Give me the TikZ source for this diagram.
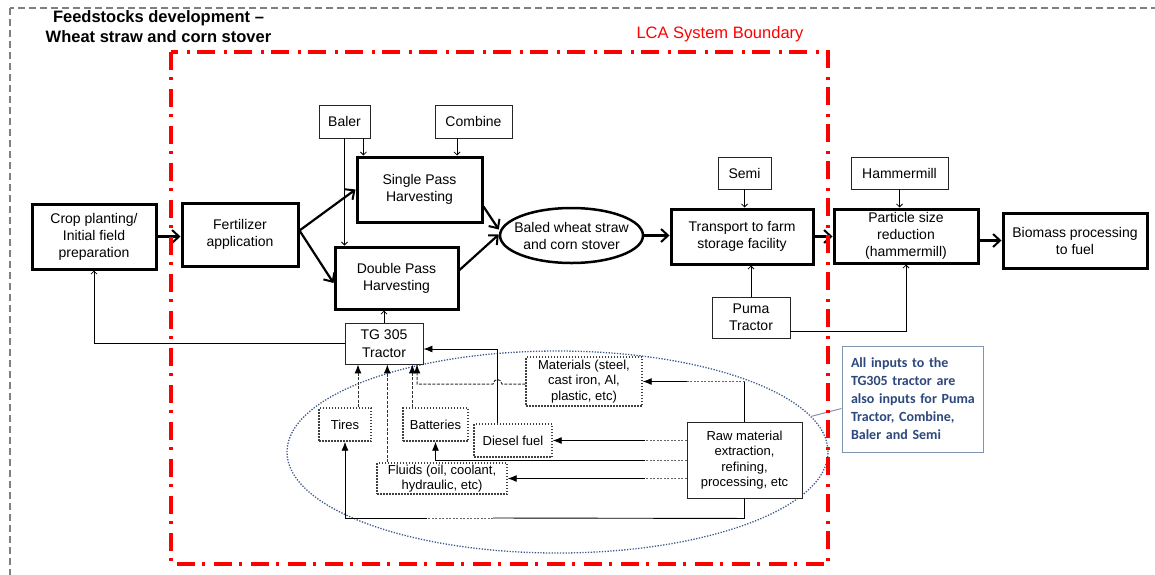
\documentclass[tikz,border=0pt]{standalone}
\usepackage{fontspec}
\setmainfont{Liberation Sans}
\newfontfamily\notefont{Carlito}
\usetikzlibrary{arrows.meta,shapes.geometric,calc}
\definecolor{lcared}{RGB}{255,0,0}
\definecolor{notetext}{RGB}{44,72,125}
\definecolor{noteborder}{RGB}{128,148,176}
\definecolor{ellblue}{RGB}{60,90,140}
\tikzset{
  mainbox/.style={draw, fill=white, line width=3pt, align=center, font=\fontsize{14}{17}\selectfont, inner sep=0pt},
  smallbox/.style={draw=black!85, fill=white, line width=0.9pt, align=center, font=\fontsize{14}{17}\selectfont, inner sep=0pt},
  dotbox/.style={draw=black!75, fill=white, line width=1.4pt, dash pattern=on 1.5pt off 1.5pt, align=center, font=\fontsize{13}{15.5}\selectfont, inner sep=0pt},
  bigarrow/.style={line width=2.2pt, -{Straight Barb[length=7pt,width=13pt,line width=2pt]}},
  thinarrow/.style={line width=0.8pt, -{Straight Barb[length=3pt,width=6pt,line width=0.8pt]}},
  fillarrow/.style={line width=0.9pt, -{Latex[length=9pt,width=7pt]}},
  dasharrow/.style={line width=1pt, draw=black!80, dash pattern=on 3pt off 1.5pt, -{Latex[length=9pt,width=7pt,color=black]}},
  dashseg/.style={line width=0.9pt, draw=black!60, dash pattern=on 2pt off 1.5pt},
  solidseg/.style={line width=0.9pt},
  outerdash/.style={draw=black!50, line width=1.3pt, dash pattern=on 7pt off 4pt},
  lcabound/.style={draw=lcared, line width=3.5pt, dash pattern=on 18pt off 7pt on 3pt off 9pt}
}
\begin{document}
\begin{tikzpicture}[x=1pt,y=-1pt]
\useasboundingbox (0,0) rectangle (1155,574);
\begin{scope}
  \clip (0,0) rectangle (1155,574);
  \draw[outerdash] (10,8) rectangle (1180,600);
\end{scope}

% title
\node[align=center, font=\bfseries\fontsize{16.5}{20}\selectfont] (title) at (158.5,27) {Feedstocks development --\\Wheat straw and corn stover};
\node[text=lcared, font=\fontsize{16.5}{20}\selectfont] (lcalabel) at (720,34) {LCA System Boundary};

% dotted ellipse
\node[ellipse, draw=ellblue, line width=1.3pt, dash pattern=on 1.3pt off 1.5pt, minimum width=541pt, minimum height=202pt, inner sep=0pt] (group) at (557.5,452) {};

% main nodes
\node[mainbox, minimum width=124pt, minimum height=65pt] (crop) at (94,236.5) {Crop planting/\\Initial field\\preparation};
\node[mainbox, minimum width=116pt, minimum height=63pt] (fert) at (240,234.5) {Fertilizer\\application};
\node[mainbox, minimum width=125pt, minimum height=65pt] (single) at (419.5,189.5) {Single Pass\\Harvesting};
\node[mainbox, minimum width=123pt, minimum height=62pt] (double) at (396.5,278) {Double Pass\\Harvesting};
\node[ellipse, draw, fill=white, line width=2.5pt, minimum width=143pt, minimum height=55pt, inner sep=0pt] (baled) at (571.5,235.5) {};
\node[align=center, font=\fontsize{14}{17}\selectfont, inner sep=0pt] (baledtext) at (baled.center) {Baled wheat straw\\and corn stover};
\node[mainbox, minimum width=142pt, minimum height=55pt] (transport) at (742,236.5) {Transport to farm\\storage facility};
\node[mainbox, minimum width=144pt, minimum height=54pt] (particle) at (906,236) {Particle size\\reduction\\(hammermill)};
\node[mainbox, minimum width=144pt, minimum height=55pt] (biomass) at (1075,240.5) {Biomass processing\\to fuel};

% small solid boxes
\node[smallbox, minimum width=51pt, minimum height=33pt] (baler) at (344.5,121.5) {Baler};
\node[smallbox, minimum width=77pt, minimum height=33pt] (combine) at (473.5,121.5) {Combine};
\node[smallbox, minimum width=53pt, minimum height=32pt] (semi) at (744.5,173) {Semi};
\node[smallbox, minimum width=97pt, minimum height=32pt] (hammer) at (899.5,173) {Hammermill};
\node[smallbox, minimum width=78pt, minimum height=41pt] (puma) at (751,317.5) {Puma\\Tractor};
\node[smallbox, minimum width=78pt, minimum height=41pt, font=\fontsize{14}{18}\selectfont] (tg) at (384,343.5) {TG 305\\Tractor};
\node[smallbox, minimum width=115pt, minimum height=76pt, font=\fontsize{13}{15.5}\selectfont] (raw) at (744.5,460) {Raw material\\extraction,\\refining,\\processing, etc};

% dotted boxes
\node[dotbox, minimum width=52pt, minimum height=33pt] (tires) at (345,424.5) {Tires};
\node[dotbox, minimum width=65pt, minimum height=33pt] (batt) at (435.5,424.5) {Batteries};
\node[dotbox, minimum width=78pt, minimum height=33pt] (diesel) at (513,440.5) {Diesel fuel};
\node[dotbox, minimum width=130pt, minimum height=31pt] (fluids) at (442,478.5) {Fluids (oil, coolant,\\hydraulic, etc)};
\node[dotbox, minimum width=116pt, minimum height=49pt] (materials) at (584,381.5) {Materials (steel,\\cast iron, Al,\\plastic, etc)};

% note
\node[draw=noteborder, line width=1pt, fill=white, text=notetext, align=left, text width=131pt, inner xsep=5pt, inner ysep=0pt, minimum height=106pt, font=\notefont\bfseries\fontsize{14}{18}\selectfont] (note) at (912.5,399) {\hspace*{4pt}All inputs to the\\\hspace*{4pt}TG305 tractor are\\\hspace*{4pt}also inputs for Puma\\\hspace*{4pt}Tractor, Combine,\\\hspace*{4pt}Baler and Semi};
\draw[noteborder, line width=1pt] ([yshift=-63pt]note.north west) -- (group.8);

% main flow
\draw[bigarrow, line width=3.5pt] (crop.east) -- (crop.east -| fert.west);
\draw[bigarrow] ([yshift=4pt]fert.east) -- (single.west);
\draw[bigarrow] ([yshift=4pt]fert.east) -- ([yshift=-5pt]double.west);
\draw[bigarrow] ([yshift=-17pt]single.east) -- ([yshift=6pt]baled.west);
\draw[bigarrow] ([yshift=8pt]double.east) -- ([yshift=1pt]baled.west);
\draw[bigarrow] (baled.east) -- (baled.east -| transport.west);
\draw[bigarrow] (transport.east) -- (transport.east -| particle.west);
\draw[bigarrow, line width=3.5pt] (particle.east |- biomass.west) -- (biomass.west);

% thin equipment arrows
\draw[thinarrow] ([xshift=-7pt]baler.south east) -- ([xshift=-7pt]baler.south east |- single.north);
\draw[thinarrow] (baler.south) -- (baler.south |- double.north);
\draw[thinarrow] ([xshift=-16.5pt]combine.south) -- ([xshift=-16.5pt]combine.south |- single.north);
\draw[thinarrow] (semi.south) -- (semi.south |- transport.north);
\draw[thinarrow] (puma.north) -- (puma.north |- transport.south);
\draw[thinarrow] ([yshift=-13.5pt]puma.east) -| (particle.south);
\draw[thinarrow] (hammer.south) -- (hammer.south |- particle.north);
\draw[thinarrow] (tg.north) -- (tg.north |- double.south);
\draw[thinarrow] (tg.west) -| (crop.south);

% inputs to TG 305
\coordinate (tiresout) at ($(tires.north)+(13,0)$);
\coordinate (fluidsout) at ($(fluids.north west)+(11,0)$);
\coordinate (battout) at ($(batt.north west)+(10,0)$);
\coordinate (matin) at ($(tg.south)+(33,0)$);
\draw[dasharrow] (tiresout) -- (tiresout |- tg.south);
\draw[dasharrow] (fluidsout) -- (fluidsout |- tg.south);
\draw[dasharrow] (battout) -- (battout |- tg.south);
\draw[dasharrow] ([yshift=-2.5pt]materials.west) -- (502,384) .. controls (501,378) and (494,378) .. (493,384) -- (matin |- 0,384) -- (matin);
\draw[fillarrow] ([xshift=-16pt]diesel.north) |- ([yshift=-5.5pt]tg.east);

% raw material to inputs
\coordinate (split) at (645,0);
\draw[solidseg] (raw.north) -- (raw.north |- materials.east);
\draw[dashseg] (raw.north |- materials.east) -- (raw.north west |- materials.east);
\draw[fillarrow] (raw.north west |- materials.east) -- (materials.east);
\draw[dashseg] (raw.west |- diesel.east) -- (split |- diesel.east);
\draw[fillarrow] (split |- diesel.east) -- (diesel.east);
\draw[dashseg] (raw.west) -- (split |- raw.west);
\draw[fillarrow] (split |- raw.west) -| (batt.south);
\draw[dashseg] (raw.west |- fluids.east) -- (split |- fluids.east);
\draw[fillarrow] (split |- fluids.east) -- (fluids.east);
\draw[solidseg] (raw.south) -- ++(0,20) -- (493,518);
\draw[dashseg] (493,518) -- (427,518);
\draw[solidseg] (427,518) -- (tires.south |- 0,518) -- (tires.south |- 0,490);
\draw[fillarrow] (tires.south |- 0,490) -- (tires.south);

% LCA boundary
\draw[lcabound] (171,52) rectangle (828,564);
\end{tikzpicture}
\end{document}
